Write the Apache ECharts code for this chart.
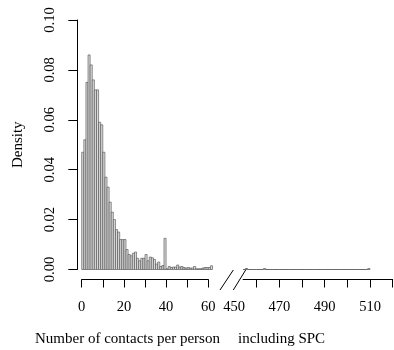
<!DOCTYPE html>
<html>
<head>
<meta charset="utf-8">
<script src="https://cdn.jsdelivr.net/npm/echarts@6/dist/echarts.min.js"></script>
<style>
  html, body { margin: 0; padding: 0; background: #fff; }
  #chart { width: 394px; height: 350px; }
</style>
</head>
<body>
<div id="chart"></div>
<script>
// Histogram of contacts per person, broken x axis (0–62 and 454–510).

// Left panel: unit-width bins starting at 0
const leftBinStart = 0;
const leftDensity = [
  0.047, 0.052, 0.075, 0.086, 0.082, 0.076, 0.072, 0.072, 0.059, 0.058,
  0.047, 0.037, 0.033, 0.027, 0.023, 0.020, 0.016, 0.015, 0.012, 0.012,
  0.012, 0.008, 0.006, 0.0055, 0.0065, 0.007, 0.0045, 0.0035, 0.0045, 0.0045,
  0.006, 0.0035, 0.005, 0.0047, 0.004, 0.0022, 0.003, 0.0012, 0.0016, 0.0125,
  0.0003, 0.0012, 0.0008, 0.001, 0.001, 0.0018, 0.001, 0.0012, 0.0008, 0.0006,
  0.0008, 0.0006, 0.0006, 0.0012, 0.0003, 0.0003, 0.0003, 0.0006, 0.0008, 0.0008,
  0.0008, 0.0015
];

// Right panel: unit-width bins starting at 454
const rightBinStart = 454;
const rightDensity = [
  0, 0.0004, 0, 0, 0, 0, 0, 0, 0, 0.0004,
  0, 0, 0, 0, 0, 0, 0, 0, 0, 0,
  0, 0, 0, 0, 0, 0, 0, 0, 0, 0,
  0, 0, 0, 0, 0, 0, 0, 0, 0, 0,
  0, 0, 0, 0, 0, 0, 0, 0, 0, 0,
  0, 0, 0, 0, 0, 0.0004
];

// Axis ticks and labels
const yTicks = [0, 0.02, 0.04, 0.06, 0.08, 0.10];
const leftXTicks = [0, 10, 20, 30, 40, 50, 60];
const leftXLabels = [0, 20, 40, 60];
const rightXTicks = [460, 470, 480, 490, 500, 510, 520];
const rightXLabels = [450, 470, 490, 510];

const yLabel = 'Density';
const xTitleLeft = 'Number of contacts per person';
const xTitleRight = 'including SPC';

// Layout
const FONT = '"Liberation Serif", "DejaVu Serif", serif';
const TOP = 20, PLOT_H = 249.5;
const L0 = 81.7, KL = 2.11;      // px of value 0, px per unit (left)
const R450 = 234.0, KR = 2.267;  // px of value 450, px per unit (right)
const AXIS_OFFSET = 10;

function bins(start, vals) {
  return vals.map((v, i) => [start + i, start + i + 1, v]);
}

const renderBin = function (params, api) {
  const p0 = api.coord([api.value(0), api.value(2)]);
  const p1 = api.coord([api.value(1), 0]);
  return {
    type: 'rect',
    shape: { x: p0[0], y: p0[1], width: p1[0] - p0[0], height: p1[1] - p0[1] },
    style: { fill: '#d9d9d9', stroke: '#4a4a4a', lineWidth: 0.6 }
  };
};

const tickText = { fontFamily: FONT, fontSize: 14.5, color: '#000' };
const lineStyle = { color: '#000', width: 1 };
const hiddenLine = { show: true, onZero: false, lineStyle: { color: '#000', opacity: 0 } };

const leftN = leftDensity.length;
const rightN = rightDensity.length;

const chart = echarts.init(document.getElementById('chart'), null, { renderer: 'canvas' });
chart.setOption({
  animation: false,
  backgroundColor: '#fff',
  grid: [
    // 0: left bars
    { left: L0, top: TOP, width: leftN * KL, height: PLOT_H },
    // 1: left axes
    { left: L0, top: TOP, width: 60 * KL, height: PLOT_H },
    // 2: right bars
    { left: R450 + (rightBinStart - 450) * KR, top: TOP, width: rightN * KR, height: PLOT_H },
    // 3: right ticks and labels
    { left: R450, top: TOP, width: 70 * KR, height: PLOT_H },
    // 4: right axis line
    { left: R450 + (rightBinStart - 450) * KR, top: TOP, width: (520 - rightBinStart) * KR, height: PLOT_H }
  ],
  xAxis: [
    { gridIndex: 0, type: 'value', min: leftBinStart, max: leftBinStart + leftN, show: false },
    {
      gridIndex: 1, type: 'value', min: 0, max: 60, interval: 10, offset: AXIS_OFFSET,
      axisLine: { show: true, onZero: false, lineStyle },
      axisTick: { show: true, length: 8, inside: false, lineStyle, customValues: leftXTicks },
      axisLabel: { show: true, margin: 20, customValues: leftXLabels, ...tickText },
      splitLine: { show: false }
    },
    { gridIndex: 2, type: 'value', min: rightBinStart, max: rightBinStart + rightN, show: false },
    {
      gridIndex: 3, type: 'value', min: 450, max: 520, interval: 10, offset: AXIS_OFFSET,
      axisLine: hiddenLine,
      axisTick: { show: true, length: 8, inside: false, lineStyle, customValues: rightXTicks },
      axisLabel: { show: true, margin: 20, customValues: rightXLabels, ...tickText },
      splitLine: { show: false }
    },
    {
      gridIndex: 4, type: 'value', min: rightBinStart, max: 520, offset: AXIS_OFFSET,
      axisLine: { show: true, onZero: false, lineStyle },
      axisTick: { show: false }, axisLabel: { show: false }, splitLine: { show: false }
    }
  ],
  yAxis: [
    { gridIndex: 0, type: 'value', min: 0, max: 0.1, show: false },
    {
      gridIndex: 1, type: 'value', min: 0, max: 0.1, interval: 0.02, offset: 4.4,
      name: yLabel, nameLocation: 'middle', nameGap: 52,
      nameTextStyle: { fontFamily: FONT, fontSize: 15, color: '#000' },
      axisLine: { show: true, onZero: false, lineStyle },
      axisTick: { show: true, length: 9, inside: false, lineStyle, customValues: yTicks },
      axisLabel: {
        show: true, rotate: 90, margin: 20, customValues: yTicks,
        formatter: v => v.toFixed(2), ...tickText
      },
      splitLine: { show: false }
    },
    { gridIndex: 2, type: 'value', min: 0, max: 0.1, show: false },
    { gridIndex: 3, type: 'value', min: 0, max: 0.1, show: false },
    { gridIndex: 4, type: 'value', min: 0, max: 0.1, show: false }
  ],
  series: [
    {
      type: 'custom', xAxisIndex: 0, yAxisIndex: 0,
      renderItem: renderBin, data: bins(leftBinStart, leftDensity), clip: false
    },
    {
      type: 'custom', xAxisIndex: 2, yAxisIndex: 2,
      renderItem: renderBin, data: bins(rightBinStart, rightDensity), clip: false
    }
  ],
  graphic: [
    // axis break marks
    { type: 'line', shape: { x1: 233.3, y1: 270, x2: 220, y2: 290 }, style: { stroke: '#000', lineWidth: 1 } },
    { type: 'line', shape: { x1: 246.7, y1: 268.3, x2: 233.3, y2: 290 }, style: { stroke: '#000', lineWidth: 1 } },
    { type: 'text', left: 35, top: 332, style: { text: xTitleLeft, font: '15px ' + FONT, fill: '#000' } },
    { type: 'text', left: 238, top: 332, style: { text: xTitleRight, font: '15px ' + FONT, fill: '#000' } }
  ]
});
</script>
</body>
</html>
